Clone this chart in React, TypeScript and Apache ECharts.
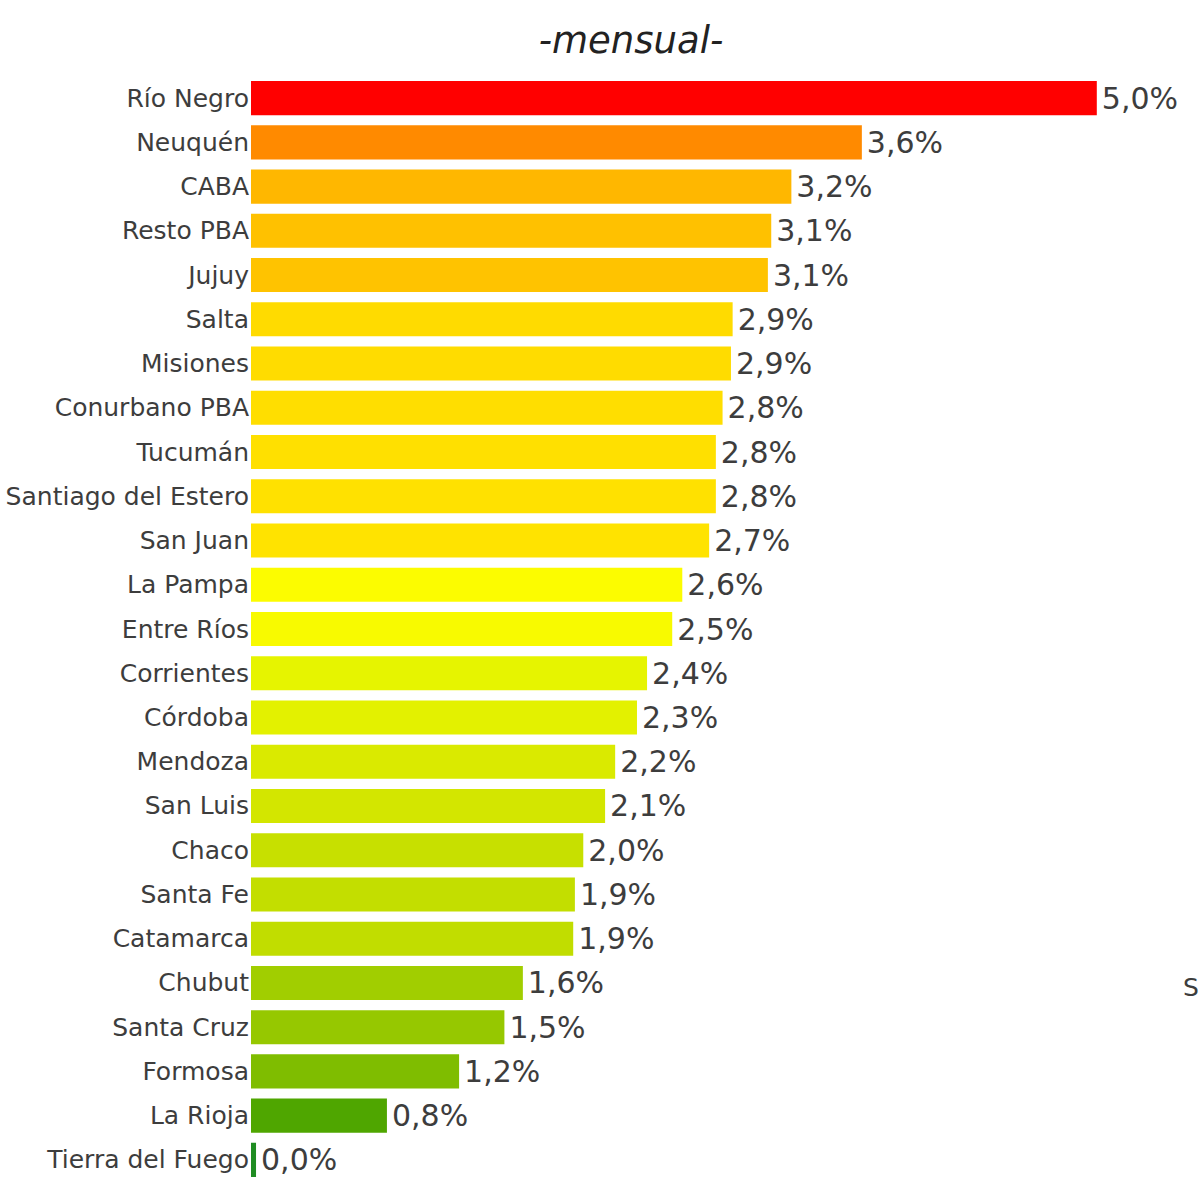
import React, { useEffect, useRef } from "react";
import * as echarts from "echarts";

const categories = [
  "Río Negro", "Neuquén", "CABA", "Resto PBA", "Jujuy", "Salta", "Misiones",
  "Conurbano PBA", "Tucumán", "Santiago del Estero", "San Juan", "La Pampa",
  "Entre Ríos", "Corrientes", "Córdoba", "Mendoza", "San Luis", "Chaco",
  "Santa Fe", "Catamarca", "Chubut", "Santa Cruz", "Formosa", "La Rioja",
  "Tierra del Fuego",
];

const values = [
  5.04, 3.64, 3.22, 3.1, 3.08, 2.87, 2.86, 2.81, 2.77, 2.77, 2.73, 2.57,
  2.51, 2.36, 2.3, 2.17, 2.11, 1.98, 1.93, 1.92, 1.62, 1.51, 1.24, 0.81, 0.03,
];

const barColors = [
  "#ff0000", "#ff8a00", "#ffb700", "#ffc100", "#ffc300", "#ffdb00", "#ffdc00",
  "#ffde00", "#ffe000", "#ffe100", "#ffe300", "#fcfc00", "#f8fa00", "#e6f400",
  "#e3f100", "#daea00", "#d3e600", "#c7e000", "#c3de00", "#c1dd00", "#a1ce00",
  "#96c800", "#7fbd00", "#4fa600", "#1f8c22",
];

const titleText = "-mensual-";
const strayText = "S";

export default function App() {
  const ref = useRef<HTMLDivElement>(null);

  useEffect(() => {
    document.body.style.margin = "0";
    const chart = echarts.init(ref.current!, null, { renderer: "svg" });
    const option: any = {
      animation: false,
      backgroundColor: "#ffffff",
      grid: {
        left: 251,
        right: 26,
        top: 76,
        bottom: 13,
        containLabel: false,
        outerBoundsMode: "none",
      },
      xAxis: {
        type: "value",
        min: 0,
        max: 5.5,
        show: false,
        splitLine: { show: false },
      },
      yAxis: {
        type: "category",
        data: categories,
        inverse: true,
        axisLine: { show: false },
        axisTick: { show: false },
        axisLabel: {
          margin: 2,
          fontSize: 25,
          fontFamily: "DejaVu Sans",
          color: "#3d3d3d",
        },
      },
      series: [
        {
          type: "bar",
          barCategoryGap: "23%",
          data: values.map((v, i) => ({
            value: v,
            itemStyle: { color: barColors[i] },
          })),
          label: {
            show: true,
            position: "right",
            distance: 5,
            fontSize: 30,
            fontFamily: "DejaVu Sans",
            color: "#3d3d3d",
            formatter: (p: any) => p.value.toFixed(1).replace(".", ",") + "%",
          },
        },
      ],
      graphic: [
        {
          type: "text",
          x: 631,
          y: 40,
          style: {
            text: titleText,
            fontSize: 37,
            fontStyle: "italic",
            fontWeight: 200,
            fontFamily: "DejaVu Sans",
            fill: "#222222",
            textAlign: "center",
            textVerticalAlign: "middle",
          },
        },
        {
          type: "text",
          x: 1183,
          y: 987,
          style: {
            text: strayText,
            fontSize: 25,
            fontFamily: "DejaVu Sans",
            fill: "#3d3d3d",
            textAlign: "left",
            textVerticalAlign: "middle",
          },
        },
      ],
    };
    chart.setOption(option);
    return () => chart.dispose();
  }, []);

  return <div ref={ref} style={{ width: 1200, height: 1195 }} />;
}
